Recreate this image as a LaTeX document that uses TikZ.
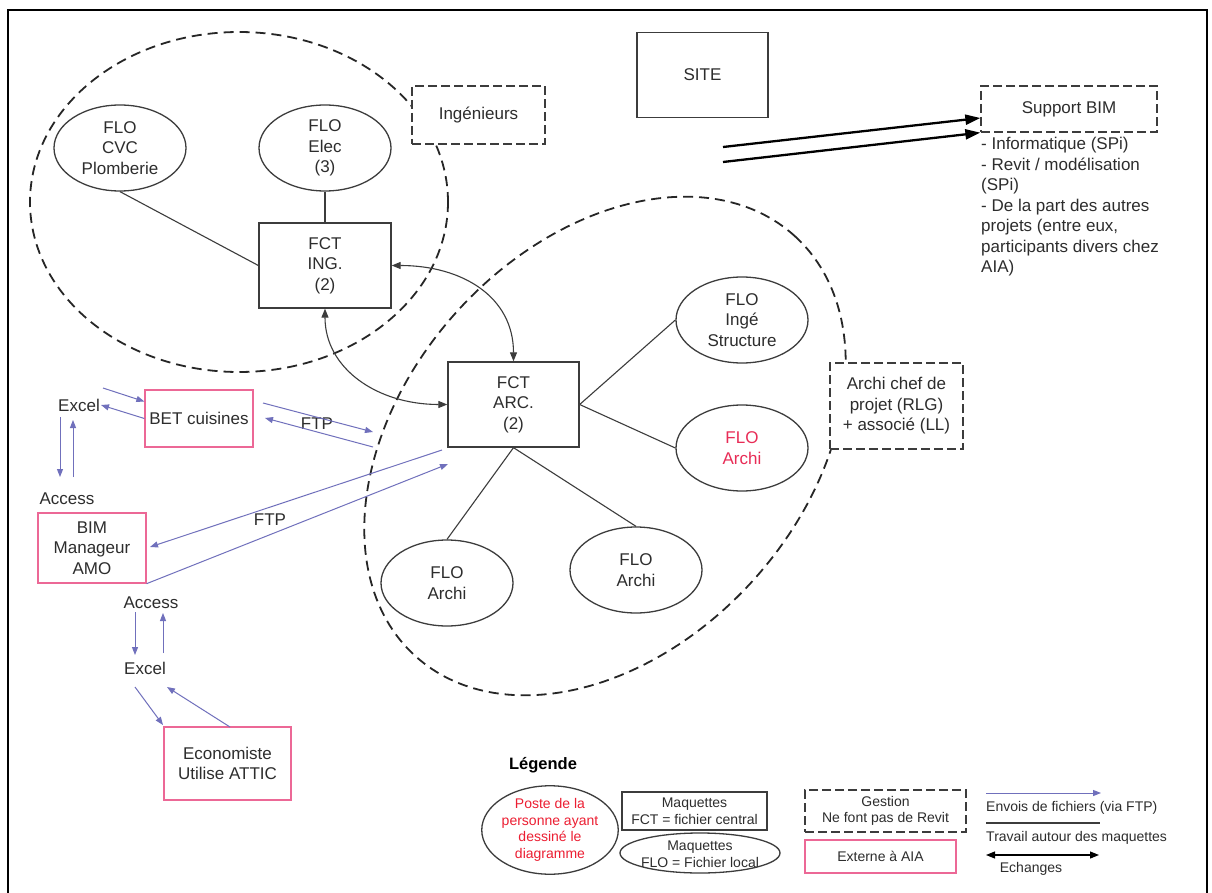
\documentclass[tikz,border=0pt]{standalone}
\usepackage{fontspec}
\setmainfont{Liberation Sans}
\usetikzlibrary{arrows.meta,shapes.geometric}
\definecolor{linec}{RGB}{60,60,60}
\definecolor{textc}{RGB}{45,45,45}
\definecolor{pinkc}{RGB}{236,104,150}
\definecolor{flored}{RGB}{232,44,86}
\definecolor{legred}{RGB}{236,30,50}
\definecolor{ftpc}{RGB}{112,112,188}
\begin{document}
\begin{tikzpicture}[x=1pt,y=-1pt,
  font=\fontsize{17}{20.5}\selectfont, text=textc,
  boxnode/.style={rectangle, draw=linec, line width=1.3pt, fill=white, align=center, inner sep=0pt},
  dashbox/.style={rectangle, draw=linec, line width=1.3pt, dash pattern=on 9pt off 4pt, fill=white, align=center, inner sep=0pt},
  pinkbox/.style={rectangle, draw=pinkc, line width=1.3pt, fill=white, align=center, inner sep=0pt},
  ellnode/.style={ellipse, draw=linec, line width=1.3pt, fill=white, align=center, inner sep=0pt, minimum width=132pt, minimum height=86pt},
  grp/.style={draw=black!85, line width=1.8pt, dash pattern=on 10pt off 6pt},
  link/.style={draw=linec, line width=1.1pt},
  ftp/.style={draw=ftpc, line width=1pt, -{Triangle[length=8pt,width=6pt]}},
  xchg/.style={draw=linec, line width=1.1pt, {Triangle[length=9pt,width=7pt]}-{Triangle[length=9pt,width=7pt]}},
  supar/.style={draw=black, line width=2.3pt, -{Triangle[length=15pt,width=10pt]}},
  lbl/.style={inner sep=1pt, align=center},
  legend/.style={font=\fontsize{14}{16.5}\selectfont}
]
\useasboundingbox (0,0) rectangle (1212,893);
\fill[white] (0,0) rectangle (1212,893);
% outer frame
\draw[black, line width=2.6pt] (8,10) rectangle (1207,905);

% groups
\draw[grp] (239,202) ellipse [x radius=209, y radius=170];
\draw[grp, rotate around={48:(605,446)}] (605,446) ellipse [x radius=283, y radius=200];

% engineering group
\node[ellnode] (cvc) at (120,148) {FLO\\CVC\\Plomberie};
\node[ellnode] (elec) at (325,148) {FLO\\Elec\\(3)};
\node[boxnode, minimum width=132pt, minimum height=85pt] (ing) at (325,265.5) {FCT\\ING.\\(2)};
\node[dashbox, minimum width=133pt, minimum height=58pt] (ingr) at (478.5,115) {Ingénieurs};

% site and support
\node[boxnode, minimum width=131pt, minimum height=85pt] (site) at (702.5,75) {SITE};
\node[dashbox, minimum width=176pt, minimum height=46pt] (sup) at (1069,109) {Support BIM};
\node[anchor=north west, align=left, inner sep=0pt] (supl) at (981,137)
  {- Informatique (SPi)\\- Revit / modélisation\\(SPi)\\- De la part des autres\\projets (entre eux,\\participants divers chez\\AIA)};
\coordinate (sa) at (723,147);
\coordinate (sb) at (723,162);
\draw[supar] (sa) -- ([yshift=-9pt]sup.west);
\draw[supar] (sb) -- (sup.south west);

% architecture group
\node[boxnode, minimum width=131pt, minimum height=85pt] (arc) at (513.5,404.5) {FCT\\ARC.\\(2)};
\node[ellnode] (str) at (742,320) {FLO\\Ingé\\Structure};
\node[ellnode, text=flored] (arch1) at (742,448) {FLO\\Archi};
\node[ellnode] (arch2) at (447,583) {FLO\\Archi};
\node[ellnode] (arch3) at (636,570) {FLO\\Archi};
\node[dashbox, minimum width=133pt, minimum height=86pt] (chef) at (896.5,406) {Archi chef de\\projet (RLG)\\+ associé (LL)};

% work links
\draw[link] (cvc.south) -- (ing.west);
\draw[link] (elec.south) -- (ing.north);
\draw[link] (arc.east) -- (str.west);
\draw[link] (arc.east) -- (arch1.west);
\draw[link] (arc.south) -- (arch2.north);
\draw[link] (arc.south) -- (arch3.north);

% exchanges between central files
\draw[xchg] (ing.east) .. controls +(70,0) and +(0,-65) .. (arc.north);
\draw[xchg] (ing.south) .. controls +(0,60) and +(-70,0) .. (arc.west);

% external partners
\node[pinkbox, minimum width=108pt, minimum height=57pt] (bet) at (199,418.5) {BET cuisines};
\node[pinkbox, minimum width=108pt, minimum height=70pt] (bim) at (92,548) {BIM\\Manageur\\AMO};
\node[pinkbox, minimum width=127pt, minimum height=73pt] (eco) at (227.5,763.5) {Economiste\\Utilise ATTIC};
\node[lbl] (xl1) at (79,405) {Excel};
\node[lbl] (ac1) at (67,499) {Access};
\node[lbl] (ac2) at (151,603) {Access};
\node[lbl] (xl2) at (145,668) {Excel};
\node[lbl] (ftp1) at (317,424) {FTP};
\node[lbl] (ftp2) at (270,520) {FTP};

% file transfers
\coordinate (b1) at (103,388);
\draw[ftp] (b1) -- ([yshift=17pt]bet.west);
\draw[ftp] (bet.west) -- (xl1.east);
\coordinate (x1a) at (60,417);  \coordinate (x1b) at (60,477);
\coordinate (x1c) at (73,477);  \coordinate (x1d) at (73,420);
\draw[ftp] (x1a) -- (x1b);
\draw[ftp] (x1c) -- (x1d);
\coordinate (f1a) at (263,403); \coordinate (f1b) at (373,432);
\coordinate (f1c) at (373,447); \coordinate (f1d) at (265,418);
\draw[ftp] (f1a) -- (f1b);
\draw[ftp] (f1c) -- (f1d);
\coordinate (f2a) at (442,450); \coordinate (f2b) at (150,547);
\draw[ftp] (f2a) -- (f2b);
\coordinate (f2c) at (448,464);
\draw[ftp] (bim.south east) -- (f2c);
\coordinate (x2a) at (135,612); \coordinate (x2b) at (135,655);
\coordinate (x2c) at (163,653); \coordinate (x2d) at (163,613);
\draw[ftp] (x2a) -- (x2b);
\draw[ftp] (x2c) -- (x2d);
\coordinate (e2a) at (135,687); \coordinate (e2b) at (163,725);
\coordinate (e2c) at (230,727); \coordinate (e2d) at (167,687);
\draw[ftp] (e2a) -- (e2b);
\draw[ftp] (e2c) -- (e2d);

% legend
\node[font=\fontsize{16.5}{19}\selectfont\bfseries, text=black] (legt) at (543,765) {Légende};
\node[ellnode, legend, text=legred, minimum width=131pt, minimum height=86pt] (lgpost) at (550,830)
  {Poste de la\\personne ayant\\dessiné le\\diagramme};
\node[boxnode, legend, minimum width=145pt, minimum height=38pt] (lgfct) at (694.5,811) {Maquettes\\FCT = fichier central};
\draw[linec, line width=1.3pt] (700,853) ellipse [x radius=80, y radius=20];
\node[legend, align=center, inner sep=0pt] (lgflo) at (700,854) {Maquettes\\FLO = Fichier local};
\node[dashbox, legend, minimum width=161pt, minimum height=42pt] (lggest) at (885.5,811) {Gestion\\Ne font pas de Revit};
\node[pinkbox, legend, minimum width=151pt, minimum height=33pt] (lgext) at (880.5,856.5) {Externe à AIA};
\coordinate (la1) at (986,793); \coordinate (la2) at (1101,793);
\draw[ftp] (la1) -- (la2);
\node[legend, anchor=west, inner sep=0pt] (lgenv) at (986,808) {Envois de fichiers (via FTP)};
\coordinate (lb1) at (986,823); \coordinate (lb2) at (1100,823);
\draw[link] (lb1) -- (lb2);
\node[legend, anchor=west, inner sep=0pt] (lgtrav) at (986,838) {Travail autour des maquettes};
\coordinate (lc1) at (986,855); \coordinate (lc2) at (1099,855);
\draw[xchg, draw=black] (lc1) -- (lc2);
\node[legend, inner sep=0pt] (lgech) at (1031,869) {Echanges};
\end{tikzpicture}
\end{document}
